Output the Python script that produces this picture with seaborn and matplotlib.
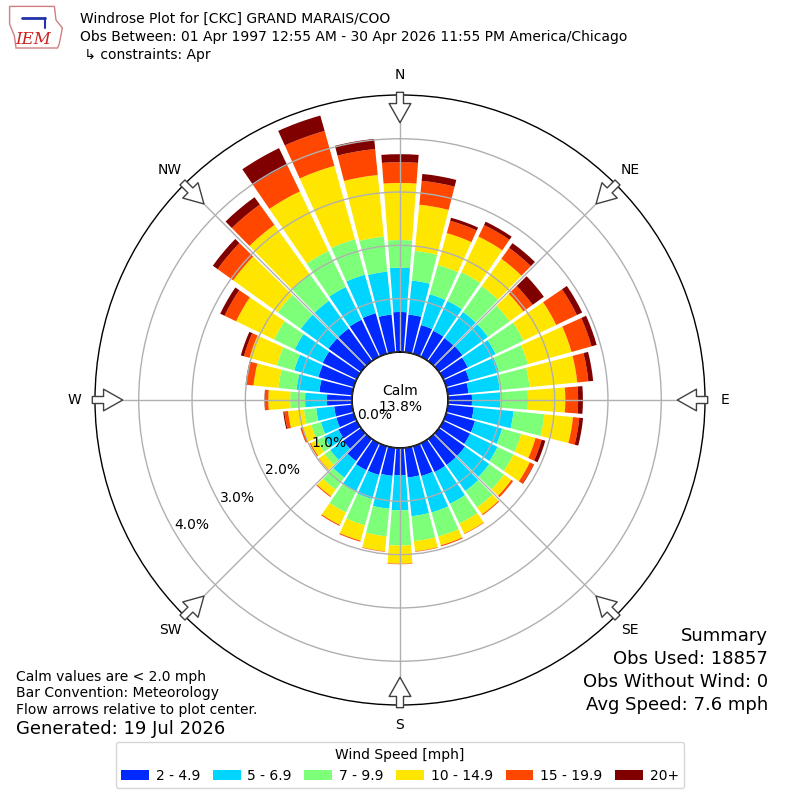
import numpy as np
import matplotlib
matplotlib.use("Agg")
from matplotlib import pyplot as plt
from matplotlib import cm
from matplotlib.patches import Patch, Polygon
import seaborn as sns

# wind direction bins (deg, meteorological) and frequency [%] per speed bin
directions = [0, 10, 20, 30, 40, 50, 60, 70, 80, 90, 100, 110,
              120, 130, 140, 150, 160, 170, 180, 190, 200, 210, 220, 230,
              240, 250, 260, 270, 280, 290, 300, 310, 320, 330, 340, 350]
speed_bins = ['2 - 4.9', '5 - 6.9', '7 - 9.9', '10 - 14.9', '15 - 19.9', '20+']

spd_2_5 = [0.75, 0.71, 0.56, 0.54, 0.53, 0.54, 0.51, 0.45, 0.39, 0.45, 0.49, 0.56,
           0.56, 0.60, 0.60, 0.60, 0.58, 0.56, 0.51, 0.53, 0.56, 0.56, 0.51, 0.41,
           0.38, 0.34, 0.34, 0.47, 0.62, 0.69, 0.71, 0.75, 0.75, 0.77, 0.79, 0.71]
spd_5_7 = [0.83, 0.64, 0.60, 0.62, 0.60, 0.59, 0.58, 0.58, 0.59, 0.53, 0.75, 0.53,
           0.57, 0.56, 0.60, 0.66, 0.71, 0.73, 0.66, 0.62, 0.47, 0.45, 0.38, 0.30,
           0.30, 0.30, 0.34, 0.41, 0.43, 0.47, 0.58, 0.64, 0.64, 0.68, 0.75, 0.81]
spd_7_10 = [0.52, 0.56, 0.57, 0.60, 0.60, 0.50, 0.58, 0.56, 0.56, 0.52, 0.58, 0.37,
            0.33, 0.34, 0.38, 0.41, 0.47, 0.47, 0.66, 0.52, 0.51, 0.43, 0.28, 0.13,
            0.15, 0.19, 0.23, 0.28, 0.34, 0.34, 0.43, 0.53, 0.62, 0.75, 0.69, 0.66]
spd_10_15 = [1.07, 0.87, 0.62, 0.74, 0.63, 0.32, 0.68, 0.85, 0.90, 0.70, 0.54, 0.28,
             0.34, 0.17, 0.16, 0.21, 0.17, 0.19, 0.34, 0.28, 0.30, 0.26, 0.15, 0.13,
             0.13, 0.17, 0.30, 0.41, 0.47, 0.53, 0.79, 1.03, 1.13, 1.24, 1.43, 1.16]
spd_15_20 = [0.39, 0.45, 0.24, 0.24, 0.25, 0.21, 0.43, 0.39, 0.21, 0.24, 0.12, 0.12,
             0.08, 0.04, 0.02, 0.01, 0.02, 0.01, 0.01, 0.01, 0.02, 0.02, 0.02, 0.01,
             0.02, 0.04, 0.07, 0.06, 0.13, 0.11, 0.24, 0.36, 0.47, 0.54, 0.68, 0.49]
spd_20 = [0.15, 0.13, 0.06, 0.07, 0.11, 0.26, 0.11, 0.10, 0.09, 0.09, 0.07, 0.07,
          0.01, 0.00, 0.00, 0.00, 0.00, 0.00, 0.00, 0.00, 0.00, 0.00, 0.00, 0.00,
          0.00, 0.00, 0.02, 0.01, 0.02, 0.06, 0.09, 0.11, 0.17, 0.36, 0.30, 0.19]

calm_pct = 13.8
radial_ticks = [0, 1, 2, 3, 4]
compass = ['N', 'NE', 'E', 'SE', 'S', 'SW', 'W', 'NW']

sns.set_theme(style='white', rc={'text.color': 'black', 'axes.edgecolor': 'black'})
plt.rcParams['font.family'] = ['DejaVu Sans']

# jet colours, skipping the calm slot
colors = sns.color_palette(list(cm.jet(np.linspace(0, 1, 7))[1:, :3]))

fig = plt.figure(figsize=(8, 8), dpi=100)
ax = fig.add_axes([0.11875, 0.11875, 0.7625, 0.7625], projection='polar')
ax.set_theta_zero_location('N')
ax.set_theta_direction(-1)

rmax = 4.82
ax.set_rorigin(-0.9)
ax.set_ylim(0, rmax)

theta = np.deg2rad(directions)
width = np.deg2rad(10) * 0.87
series = [spd_2_5, spd_5_7, spd_7_10, spd_10_15, spd_15_20, spd_20]
bottom = np.zeros(len(directions))
for vals, col in zip(series, colors):
    ax.bar(theta, vals, width=width, bottom=bottom, color=col, edgecolor='none',
           align='center', zorder=1)
    bottom = bottom + np.array(vals)

ax.set_axisbelow(False)
ax.set_yticks(radial_ticks)
ax.set_yticklabels([])
ax.set_xticks(np.deg2rad(np.arange(0, 360, 45)))
ax.set_xticklabels([])
ax.grid(True, color='#b0b0b0', lw=1, zorder=2)
ax.spines['polar'].set_color('black')
ax.spines['polar'].set_linewidth(1)

# calm circle
tt = np.linspace(0, 2 * np.pi, 361)
ax.plot(tt, np.zeros_like(tt), color='black', lw=1, zorder=3)
ax.text(0.5, 0.502, 'Calm\n%.1f%%' % calm_pct, transform=ax.transAxes,
        ha='center', va='center', fontsize=10, zorder=5)

# radial labels
for t in radial_ticks:
    ax.text(np.deg2rad(239), t - 0.34, '%.1f%%' % t, ha='center', va='center',
            fontsize=10, clip_on=False, zorder=5)

# compass labels and flow arrows
for i, lab in enumerate(compass):
    ang = np.deg2rad(i * 45)
    ax.text(ang, 5.2, lab, ha='center', va='center', fontsize=10, clip_on=False)
    ax.annotate('', xy=(ang, 4.3), xytext=(ang, rmax + 0.05),
                arrowprops=dict(arrowstyle='simple,head_length=1.15,head_width=1.3,tail_width=0.42',
                                fc='white', ec='#404040', lw=1, shrinkA=0, shrinkB=0),
                annotation_clip=False, zorder=6)

# header
fig.text(80 / 800, 1 - 19 / 800, 'Windrose Plot for [CKC] GRAND MARAIS/COO', fontsize=10, va='center')
fig.text(80 / 800, 1 - 37 / 800,
         'Obs Between: 01 Apr 1997 12:55 AM - 30 Apr 2026 11:55 PM America/Chicago',
         fontsize=10, va='center')
fig.text(80 / 800, 1 - 55 / 800, ' \u21b3 constraints: Apr', fontsize=10, va='center')

# rough IEM logo
logo = Polygon([[0.012, 0.992], [0.068, 0.992], [0.07, 0.975], [0.078, 0.965],
                [0.074, 0.945], [0.072, 0.94], [0.02, 0.94], [0.018, 0.955],
                [0.012, 0.97]], closed=True, transform=fig.transFigure,
               fc='white', ec='#d08080', lw=1)
fig.patches.append(logo)
fig.text(0.041, 0.951, 'IEM', color='#cc2222', fontsize=12, style='italic',
         family='DejaVu Serif', ha='center', va='center')
fig.lines.append(plt.Line2D([0.028, 0.056], [0.978, 0.978], transform=fig.transFigure,
                            color='#2233aa', lw=2))
fig.lines.append(plt.Line2D([0.056, 0.056], [0.978, 0.965], transform=fig.transFigure,
                            color='#2233aa', lw=1.5))

# footer notes
fig.text(16 / 800, 1 - 677 / 800, 'Calm values are < 2.0 mph', fontsize=10, va='center')
fig.text(16 / 800, 1 - 693 / 800, 'Bar Convention: Meteorology', fontsize=10, va='center')
fig.text(16 / 800, 1 - 710 / 800, 'Flow arrows relative to plot center.', fontsize=10, va='center')
fig.text(16 / 800, 1 - 729 / 800, 'Generated: 19 Jul 2026', fontsize=13, va='center')

fig.text(768 / 800, 1 - 636 / 800, 'Summary', fontsize=13, ha='right', va='center')
fig.text(768 / 800, 1 - 659 / 800, 'Obs Used: 18857', fontsize=13, ha='right', va='center')
fig.text(768 / 800, 1 - 682 / 800, 'Obs Without Wind: 0', fontsize=13, ha='right', va='center')
fig.text(768 / 800, 1 - 705 / 800, 'Avg Speed: 7.6 mph', fontsize=13, ha='right', va='center')

handles = [Patch(facecolor=c, edgecolor='none') for c in colors]
fig.legend(handles, speed_bins, loc='lower center', bbox_to_anchor=(0.5, 0.006),
           ncol=6, fontsize=10, title='Wind Speed [mph]', title_fontsize=10,
           frameon=True, fancybox=True, framealpha=0.8, edgecolor='#cccccc',
           handlelength=2.0, handletextpad=0.5, columnspacing=0.9)

fig.savefig('out.png', dpi=100)
